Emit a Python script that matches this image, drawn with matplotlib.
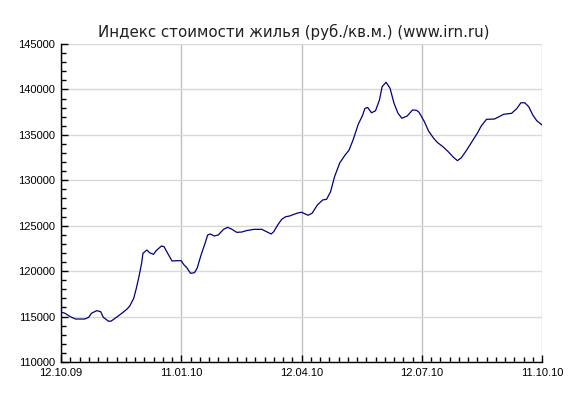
import matplotlib
matplotlib.use("Agg")
import matplotlib.pyplot as plt
import matplotlib.dates as mdates
from matplotlib.ticker import MultipleLocator
import pandas as pd

title = "Индекс стоимости жилья (руб./кв.м.) (www.irn.ru)"

dates = [
    "2009-10-12", "2009-10-15", "2009-10-19", "2009-10-23", "2009-10-30", "2009-11-02",
    "2009-11-04", "2009-11-08", "2009-11-11", "2009-11-13", "2009-11-17", "2009-11-19",
    "2009-11-23", "2009-11-27", "2009-12-01", "2009-12-03", "2009-12-06", "2009-12-08",
    "2009-12-10", "2009-12-12", "2009-12-13", "2009-12-16", "2009-12-18", "2009-12-21",
    "2009-12-23", "2009-12-27", "2009-12-29", "2010-01-01", "2010-01-04", "2010-01-08",
    "2010-01-11", "2010-01-13", "2010-01-15", "2010-01-18", "2010-01-21", "2010-01-23",
    "2010-01-26", "2010-01-29", "2010-01-31", "2010-02-02", "2010-02-05", "2010-02-08",
    "2010-02-12", "2010-02-15", "2010-02-18", "2010-02-22", "2010-02-26", "2010-03-01",
    "2010-03-07", "2010-03-13", "2010-03-17", "2010-03-20", "2010-03-22", "2010-03-25",
    "2010-03-28", "2010-03-31", "2010-04-03", "2010-04-07", "2010-04-10", "2010-04-12",
    "2010-04-17", "2010-04-20", "2010-04-24", "2010-04-28", "2010-05-01", "2010-05-04",
    "2010-05-07", "2010-05-11", "2010-05-15", "2010-05-18", "2010-05-21", "2010-05-25",
    "2010-05-28", "2010-05-30", "2010-06-01", "2010-06-04", "2010-06-07", "2010-06-10",
    "2010-06-12", "2010-06-15", "2010-06-18", "2010-06-21", "2010-06-24", "2010-06-27",
    "2010-07-01", "2010-07-05", "2010-07-08", "2010-07-10", "2010-07-14", "2010-07-17",
    "2010-07-21", "2010-07-24", "2010-07-28", "2010-08-01", "2010-08-05", "2010-08-08",
    "2010-08-11", "2010-08-15", "2010-08-19", "2010-08-23", "2010-08-26", "2010-08-30",
    "2010-09-05", "2010-09-12", "2010-09-18", "2010-09-22", "2010-09-25", "2010-09-28",
    "2010-10-01", "2010-10-04", "2010-10-07", "2010-10-11",
]

values = [
    115500, 115360, 114990, 114730, 114730, 114920,
    115360, 115650, 115540, 114920, 114480, 114510,
    114920, 115360, 115830, 116160, 117000, 118110,
    119390, 120860, 121960, 122330, 122030, 121850,
    122250, 122770, 122690, 121890, 121120, 121150,
    121150, 120700, 120420, 119760, 119830, 120310,
    121780, 123060, 123980, 124090, 123870, 123980,
    124600, 124820, 124640, 124270, 124310, 124450,
    124600, 124600, 124310, 124090, 124340, 125080,
    125700, 125990, 126070, 126290, 126430, 126480,
    126150, 126370, 127280, 127830, 127910, 128740,
    130390, 131930, 132780, 133330, 134430, 136190,
    137070, 137910, 138020, 137430, 137650, 138840,
    140300, 140790, 140130, 138480, 137380, 136830,
    137080, 137740, 137700, 137480, 136450, 135460,
    134620, 134140, 133700, 133150, 132530, 132160,
    132490, 133330, 134250, 135170, 135970, 136710,
    136740, 137260, 137370, 137910, 138530, 138530,
    138090, 137190, 136560, 136090,
]

major_dates = ["2009-10-12", "2010-01-11", "2010-04-12", "2010-07-12", "2010-10-11"]
y_min, y_max, y_step, y_minor = 110000, 145000, 5000, 1000

W, H = 571, 409
fig = plt.figure(figsize=(W / 100, H / 100), dpi=100)
ax = fig.add_axes([61 / W, (H - 362) / H, (542 - 61) / W, (362 - 44) / H])

x = pd.to_datetime(dates)
ax.plot(x, values, color="#000080", lw=0.9, zorder=3)

xmaj = pd.to_datetime(major_dates)
ax.set_xlim(xmaj[0], xmaj[-1])
ax.set_ylim(y_min, y_max)

ax.set_xticks(xmaj)
ax.xaxis.set_major_formatter(mdates.DateFormatter("%d.%m.%y"))
ax.set_xticks(pd.date_range(xmaj[0], xmaj[-1], freq="7D"), minor=True)
ax.yaxis.set_major_locator(MultipleLocator(y_step))
ax.yaxis.set_minor_locator(MultipleLocator(y_minor))

ax.grid(True, which="major", axis="y", color="#d8d8d8", lw=1.0, zorder=0)
ax.grid(True, which="major", axis="x", color="#c0c0c0", lw=1.0, zorder=0)

for s in ["top", "right"]:
    ax.spines[s].set_visible(False)
for s in ["left", "bottom"]:
    ax.spines[s].set_color("black")
    ax.spines[s].set_linewidth(1.0)

ax.tick_params(axis="both", which="major", direction="in", length=5, width=1,
               labelsize=8, colors="black", pad=4)
ax.tick_params(axis="both", which="minor", direction="in", length=3.5, width=1)
for lab in ax.get_xticklabels() + ax.get_yticklabels():
    lab.set_family("Liberation Sans")

fig.text(294 / W, 1 - 32 / H, title, ha="center", va="center",
         fontsize=10.8, family="DejaVu Sans", color="#202020")

fig.savefig("out.png", dpi=100)
